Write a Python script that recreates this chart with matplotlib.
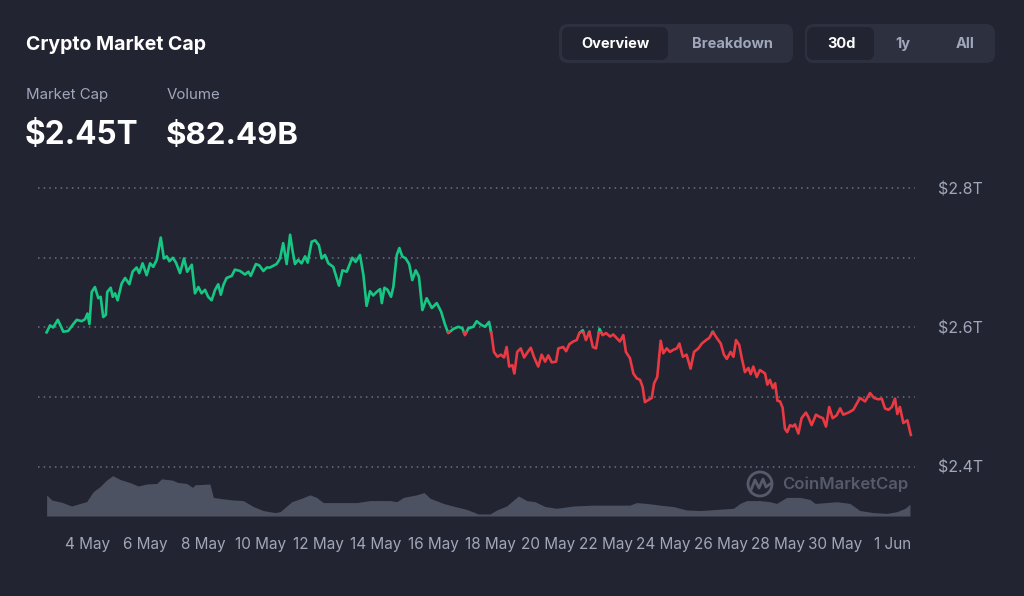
import numpy as np
import matplotlib
matplotlib.use('Agg')
from matplotlib import pyplot as plt
from matplotlib.patches import FancyBboxPatch, Circle
from matplotlib.ticker import FixedLocator

plt.rcParams['font.family'] = ['Inter', 'DejaVu Sans']

BG = '#222531'
GREEN = '#16c784'
RED = '#ea3943'
GRAY = '#a1a7bb'
VOLC = '#4d5263'

# market cap (trillion USD), time as day of May
cap_day = [2.56, 2.68, 2.79, 2.95, 3.03, 3.14, 3.31, 3.49, 3.61, 3.78, 3.90, 3.98, 4.05, 4.13, 4.24,
           4.36, 4.44, 4.53, 4.62, 4.67, 4.79, 4.86, 4.94, 5.03, 5.17, 5.29, 5.44, 5.55, 5.69, 5.78,
           5.90, 6.04, 6.16, 6.27, 6.39, 6.53, 6.64, 6.74, 6.83, 6.95, 7.06, 7.20, 7.34, 7.45, 7.61,
           7.72, 7.84, 7.95, 8.07, 8.18, 8.30, 8.42, 8.53, 8.62, 8.71, 8.82, 9.00, 9.11, 9.29, 9.46,
           9.58, 9.66, 9.84, 9.96, 10.10, 10.22, 10.33,
           10.56, 10.68, 10.79, 10.91, 11.03, 11.11, 11.20, 11.31, 11.43, 11.55, 11.64, 11.78, 11.90,
           12.03, 12.13, 12.24, 12.36, 12.53, 12.73, 12.85, 13.00, 13.19, 13.31, 13.46, 13.58, 13.69,
           13.81, 13.92, 14.04, 14.16, 14.22, 14.31, 14.42, 14.54, 14.62, 14.74, 14.83, 14.93, 15.05,
           15.17, 15.28, 15.40, 15.51, 15.63, 15.78, 15.96, 16.13, 16.28, 16.42, 16.53, 16.71, 16.88,
           17.02, 17.11, 17.23, 17.40, 17.52, 17.67, 17.81, 17.95,
           18.04, 18.12, 18.24, 18.36, 18.47, 18.56, 18.65, 18.76, 18.83, 18.93, 19.05, 19.17, 19.28,
           19.40, 19.51, 19.66, 19.78, 19.90, 20.01, 20.13, 20.28, 20.36, 20.53, 20.63, 20.74, 20.88,
           21.00, 21.09, 21.21, 21.32, 21.44, 21.56, 21.67, 21.79, 21.90, 22.02, 22.16, 22.27, 22.41,
           22.50, 22.62, 22.71, 22.85, 22.97, 23.09, 23.20, 23.29, 23.37, 23.49, 23.61, 23.69, 23.80,
           23.92, 24.01, 24.13, 24.24, 24.36, 24.48, 24.57, 24.69, 24.82, 24.96, 25.08, 25.23, 25.35,
           25.50, 25.61,
           25.73, 25.87, 26.01, 26.12, 26.22, 26.35, 26.45, 26.54, 26.65, 26.74, 26.85, 26.97, 27.05,
           27.14, 27.26, 27.37, 27.55, 27.63, 27.72, 27.82, 27.90, 27.98, 28.07, 28.16, 28.24, 28.32,
           28.42, 28.51, 28.59, 28.71, 28.82, 28.97, 29.05, 29.17, 29.32, 29.44, 29.56, 29.67, 29.78,
           29.90, 30.04, 30.16, 30.27, 30.45, 30.62, 30.74, 30.85, 31.03, 31.20, 31.34, 31.49, 31.61,
           31.72, 31.84, 31.96, 32.07, 32.15, 32.24, 32.36, 32.50, 32.62]
cap_val = [2.593, 2.603, 2.600, 2.611, 2.604, 2.594, 2.595, 2.605, 2.611, 2.609, 2.612, 2.620, 2.605, 2.651, 2.658,
           2.642, 2.644, 2.615, 2.618, 2.651, 2.657, 2.644, 2.649, 2.639, 2.663, 2.671, 2.662, 2.680, 2.686, 2.678,
           2.692, 2.675, 2.692, 2.687, 2.697, 2.729, 2.699, 2.702, 2.695, 2.700, 2.693, 2.678, 2.699, 2.680, 2.690,
           2.649, 2.658, 2.649, 2.654, 2.644, 2.639, 2.654, 2.662, 2.647, 2.661, 2.671, 2.674, 2.683, 2.681, 2.676,
           2.680, 2.674, 2.691, 2.689, 2.681, 2.686, 2.686,
           2.691, 2.699, 2.721, 2.691, 2.733, 2.711, 2.691, 2.697, 2.692, 2.702, 2.693, 2.723, 2.725,
           2.718, 2.699, 2.704, 2.692, 2.687, 2.660, 2.682, 2.680, 2.700, 2.694, 2.704, 2.675, 2.631,
           2.652, 2.646, 2.651, 2.655, 2.635, 2.657, 2.654, 2.644, 2.658, 2.704, 2.714, 2.702, 2.699,
           2.691, 2.668, 2.682, 2.673, 2.625, 2.642, 2.628, 2.635, 2.623, 2.604, 2.592, 2.598, 2.601,
           2.599, 2.589, 2.599, 2.601, 2.609, 2.604, 2.601, 2.608,
           2.589, 2.565, 2.558, 2.561, 2.557, 2.572, 2.544, 2.546, 2.534, 2.565, 2.570, 2.557, 2.564,
           2.571, 2.558, 2.544, 2.561, 2.551, 2.560, 2.550, 2.551, 2.570, 2.572, 2.566, 2.576, 2.580,
           2.582, 2.592, 2.596, 2.582, 2.594, 2.572, 2.570, 2.598, 2.589, 2.592, 2.587, 2.590, 2.584,
           2.580, 2.589, 2.565, 2.556, 2.534, 2.527, 2.525, 2.515, 2.493, 2.496, 2.499, 2.520, 2.529,
           2.581, 2.563, 2.570, 2.565, 2.568, 2.570, 2.577, 2.558, 2.561, 2.541, 2.565, 2.570, 2.577,
           2.582, 2.585,
           2.594, 2.585, 2.577, 2.561, 2.555, 2.565, 2.558, 2.582, 2.575, 2.556, 2.536, 2.542, 2.533,
           2.544, 2.529, 2.539, 2.534, 2.518, 2.525, 2.513, 2.520, 2.495, 2.494, 2.485, 2.455, 2.450,
           2.460, 2.458, 2.461, 2.448, 2.470, 2.478, 2.472, 2.460, 2.475, 2.472, 2.470, 2.458, 2.486,
           2.470, 2.474, 2.484, 2.475, 2.478, 2.482, 2.491, 2.499, 2.494, 2.506, 2.499, 2.497, 2.498,
           2.484, 2.482, 2.486, 2.498, 2.476, 2.486, 2.463, 2.467, 2.446]

# volume (billion USD)
vol_day = [2.56, 2.74, 3.09, 3.43, 3.66, 3.95, 4.18, 4.42, 4.65, 4.86, 5.11, 5.46, 5.75, 6.04, 6.39,
           6.56, 6.91, 7.14, 7.43, 7.64, 7.72, 8.24, 8.36, 8.71, 9.05, 9.40, 9.75, 10.10, 10.50, 10.68,
           11.09, 11.43, 11.72, 11.95, 12.18, 12.65, 13.35, 13.81, 14.50, 14.74, 14.97, 15.43, 15.69,
           15.90, 16.36, 16.77, 17.17, 17.58, 17.98, 18.22, 18.56, 18.91, 18.97, 19.26, 19.55, 19.90,
           20.30, 20.88, 21.58, 22.16, 22.85, 23.08, 23.43, 23.90, 24.36, 24.82, 25.29, 25.87, 26.45,
           26.68, 26.91, 27.37, 27.72, 27.95, 28.30, 28.77, 29.11, 29.29, 29.69, 30.04, 30.50, 30.85,
           31.31, 31.78, 32.13, 32.42, 32.59]
vol_b = [73.5, 56, 48, 35, 42, 50, 85, 103, 126, 141, 128, 117, 105, 112, 114,
         130, 126, 117, 114, 100, 109, 112, 65, 60, 56, 54, 33, 19, 12, 15,
         50, 62, 74, 65, 47, 47, 47, 54, 54, 50, 65, 74, 82,
         62, 44, 33, 23, 7, 7, 21, 35, 65, 70, 54, 50, 33,
         27, 35, 38, 38, 38, 47, 44, 38, 33, 21, 19, 23, 27,
         44, 54, 54, 50, 44, 65, 65, 58, 44, 47, 50, 44, 19,
         12, 9, 15, 27, 41]

tick_days = [4, 6, 8, 10, 12, 14, 16, 18, 20, 22, 24, 26, 28, 30, 32]
tick_labels = ['4 May', '6 May', '8 May', '10 May', '12 May', '14 May', '16 May', '18 May',
               '20 May', '22 May', '24 May', '26 May', '28 May', '30 May', '1 Jun']
cap_ticks = [2.4, 2.6, 2.8]
cap_labels = ['$2.4T', '$2.6T', '$2.8T']


def split_at(t, v, base):
    # add crossing points so the colour change happens exactly on the base level
    tt, vv = [t[0]], [v[0]]
    for i in range(1, len(t)):
        if (v[i - 1] - base) * (v[i] - base) < 0:
            f = (base - v[i - 1]) / (v[i] - v[i - 1])
            tt.append(t[i - 1] + f * (t[i] - t[i - 1]))
            vv.append(base)
        tt.append(t[i])
        vv.append(v[i])
    tt, vv = np.array(tt), np.array(vv)
    return tt, np.where(vv >= base, vv, np.nan), np.where(vv <= base, vv, np.nan)


fig = plt.figure(figsize=(10.24, 5.96), dpi=100, facecolor=BG)

# header / decoration layer in pixel units
deco = fig.add_axes([0, 0, 1, 1])
deco.set_xlim(0, 1024)
deco.set_ylim(596, 0)
deco.axis('off')

deco.text(26, 50, 'Crypto Market Cap', color='white', fontsize=14, fontweight='bold', va='baseline')
deco.text(26, 99, 'Market Cap', color=GRAY, fontsize=10.8, va='baseline')
deco.text(167, 99, 'Volume', color=GRAY, fontsize=10.8, va='baseline')
deco.text(25, 144, '$2.45T', color='white', fontsize=22.7, fontweight='bold', va='baseline')
deco.text(166, 144, '$82.49B', color='white', fontsize=22.5, fontweight='bold', va='baseline')


def pill(x0, x1, y0, y1, color, r):
    deco.add_patch(FancyBboxPatch((x0, y0), x1 - x0, y1 - y0,
                                  boxstyle=f'round,pad=0,rounding_size={r}',
                                  fc=color, ec='none'))


pill(559, 793, 24, 63, '#2d303f', 9)
pill(562, 668, 27, 60, BG, 7)
pill(805, 995, 24, 63, '#2d303f', 9)
pill(807, 874, 27, 60, BG, 7)
for x, s, c in [(615, 'Overview', 'white'), (732, 'Breakdown', GRAY),
                (841, '30d', 'white'), (903, '1y', GRAY), (965, 'All', GRAY)]:
    deco.text(x, 44, s, color=c, fontsize=10.5, fontweight='bold', ha='center', va='center')

# watermark
deco.add_patch(Circle((760, 484), 12, fc='none', ec='#565a6a', lw=2))
deco.plot([751, 755, 759, 763, 766, 770], [490, 480, 488, 479, 487, 484], color='#565a6a', lw=2)
deco.text(782, 484, 'CoinMarketCap', color='#565a6a', fontsize=12, fontweight='semibold', va='center')

rect = [38 / 1024, 80 / 596, 877 / 1024, 348.9 / 596]
xlim = (2.261, 32.765)

vax = fig.add_axes(rect)
vax.fill_between(vol_day, vol_b, color=VOLC, lw=0)
vax.set_xlim(xlim)
vax.set_ylim(0, 1221)
vax.axis('off')

ax = fig.add_axes(rect)
ax.set_facecolor('none')
base = cap_val[0]
tt, up, dn = split_at(cap_day, cap_val, base)
ax.plot(tt, up, color=GREEN, lw=1.9, solid_joinstyle='round')
ax.plot(tt, dn, color=RED, lw=1.9, solid_joinstyle='round')
ax.set_xlim(xlim)
ax.set_ylim(2.3297, 2.83)

for s in ax.spines.values():
    s.set_visible(False)
ax.yaxis.tick_right()
ax.set_yticks(cap_ticks)
ax.set_yticklabels(cap_labels)
ax.yaxis.set_minor_locator(FixedLocator([2.5, 2.7]))
ax.grid(True, axis='y', which='both', color='#6c7080', lw=1.1, linestyle=(0, (1, 2.7)))
ax.tick_params(axis='y', which='both', length=0, pad=16.5, labelsize=11.5, labelcolor=GRAY)
ax.set_xticks(tick_days)
ax.set_xticklabels(tick_labels)
ax.tick_params(axis='x', length=0, pad=15, labelsize=11, labelcolor=GRAY)

fig.savefig('out.png', dpi=100, facecolor=BG)
